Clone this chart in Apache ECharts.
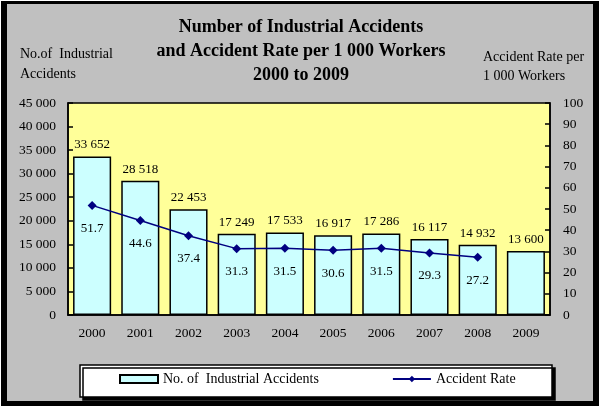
<!DOCTYPE html>
<html><head><meta charset="utf-8">
<script src="https://cdn.jsdelivr.net/npm/echarts@6/dist/echarts.min.js"></script>
<style>html,body{margin:0;padding:0;background:#fff}#c{width:600px;height:409px}</style>
</head><body><div id="c"></div>
<script>
const years = ['2000','2001','2002','2003','2004','2005','2006','2007','2008','2009'];
const accidents = [33652, 28518, 22453, 17249, 17533, 16917, 17286, 16117, 14932, 13600];
const rates = [51.7, 44.6, 37.4, 31.3, 31.5, 30.6, 31.5, 29.3, 27.2, null];
const titleLines = ['Number of Industrial Accidents', 'and Accident Rate per 1 000 Workers', '2000 to 2009'];
const leftAxisName = ['No.of  Industrial', 'Accidents'];
const rightAxisName = ['Accident Rate per', '1 000 Workers'];
const seriesNames = ['No. of  Industrial Accidents', 'Accident Rate'];

const F = 'Liberation Serif, Times New Roman, serif';
const fmt = v => { const s = String(Math.round(v)); return s.length > 3 ? s.slice(0, s.length-3) + ' ' + s.slice(-3) : s; };

const chart = echarts.init(document.getElementById('c'), null, {renderer:'canvas'});
chart.setOption({
  animation: false,
  backgroundColor: '#fff',
  textStyle: {fontFamily: F},
  graphic: [
    {type:'rect', z:-10, shape:{x:1,y:1,width:598,height:405}, style:{fill:'#000'}},
    {type:'rect', z:-9, shape:{x:7,y:4,width:586,height:397}, style:{fill:'#c0c0c0'}},
    {type:'rect', z:-8, shape:{x:80,y:365,width:472,height:32}, style:{fill:'#fff', stroke:'#000', lineWidth:1.5, shadowColor:'#000', shadowOffsetX:3, shadowOffsetY:3, shadowBlur:0}},
    {type:'text', x:301, y:27, style:{text: titleLines[0], font:'bold 18px ' + F, fill:'#000', align:'center', verticalAlign:'middle'}},
    {type:'text', x:301, y:51, style:{text: titleLines[1], font:'bold 18px ' + F, fill:'#000', align:'center', verticalAlign:'middle'}},
    {type:'text', x:301, y:75, style:{text: titleLines[2], font:'bold 18px ' + F, fill:'#000', align:'center', verticalAlign:'middle'}},
    {type:'text', x:20, y:54, style:{text: leftAxisName[0], font:'14px ' + F, fill:'#000', verticalAlign:'middle'}},
    {type:'text', x:20, y:74, style:{text: leftAxisName[1], font:'14px ' + F, fill:'#000', verticalAlign:'middle'}},
    {type:'text', x:483, y:57, style:{text: rightAxisName[0], font:'14px ' + F, fill:'#000', verticalAlign:'middle'}},
    {type:'text', x:483, y:76, style:{text: rightAxisName[1], font:'14px ' + F, fill:'#000', verticalAlign:'middle'}}
  ],
  legend: {
    left: 119, top: 372, padding: 0,
    itemWidth: 38, itemHeight: 8, itemGap: 73,
    textStyle: {fontFamily: F, fontSize: 14, color:'#000'},
    data: [
      {name: seriesNames[0], icon: 'rect'},
      {name: seriesNames[1]}
    ]
  },
  grid: {left: 68, right: 50, top: 103, bottom: 94, show: true, backgroundColor: '#ffff99', borderColor: '#000', borderWidth: 1.5},
  xAxis: {
    type: 'category', data: years,
    axisLine: {lineStyle: {color:'#000', width:1.5}},
    axisTick: {inside: true, length: 5, lineStyle: {color:'#000', width:1.5}},
    axisLabel: {color:'#000', fontFamily: F, fontSize: 13.5, margin: 11}
  },
  yAxis: [
    {type:'value', min:0, max:45000, interval:5000,
     splitLine:{show:false},
     axisLine:{show:true, lineStyle:{color:'#000', width:1.5}},
     axisTick:{show:true, inside:true, length:5, lineStyle:{color:'#000', width:1.5}},
     axisLabel:{color:'#000', fontFamily:F, fontSize:13.5, margin:12, formatter: fmt}},
    {type:'value', min:0, max:100, interval:10,
     splitLine:{show:false},
     axisLine:{show:true, lineStyle:{color:'#000', width:1.5}},
     axisTick:{show:true, inside:true, length:5, lineStyle:{color:'#000', width:1.5}},
     axisLabel:{color:'#000', fontFamily:F, fontSize:13.5, margin:13}}
  ],
  series: [
    {name: seriesNames[0], type:'bar', data: accidents, barCategoryGap:'21%',
     itemStyle:{color:'#ccffff', borderColor:'#000', borderWidth:1.5},
     label:{show:true, position:'top', distance:5, color:'#000', fontFamily:F, fontSize:13, formatter: p => fmt(p.value)}},
    {name: seriesNames[1], type:'line', yAxisIndex:1, data: rates,
     symbol:'diamond', symbolSize:9, color:'#000080',
     lineStyle:{color:'#000080', width:1.5},
     itemStyle:{color:'#000080'},
     label:{show:true, position:'bottom', distance:12, color:'#000', fontFamily:F, fontSize:13, formatter: p => p.value.toFixed(1)}}
  ]
});
</script></body></html>
